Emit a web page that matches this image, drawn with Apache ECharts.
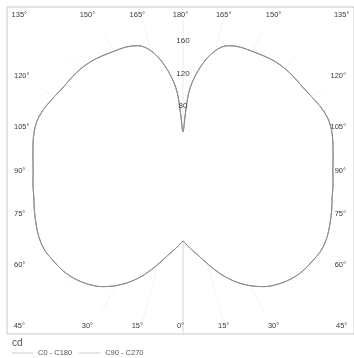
<!DOCTYPE html>
<html>
<head>
<meta charset="utf-8">
<script src="https://cdn.jsdelivr.net/npm/echarts@6/dist/echarts.min.js"></script>
<style>
  html, body { margin: 0; padding: 0; background: #ffffff; }
  #chart { width: 354px; height: 358px; }
</style>
</head>
<body>
<div id="chart"></div>
<script>
// Vertical angle gamma (degrees from nadir) and luminous intensity (cd).
// The distribution is symmetric, so each C-plane pair uses one half-curve.
const gammaAngles = [0, 2.5, 5, 10, 15, 20, 25, 30, 35, 40, 45, 50, 55, 60, 65, 70, 75, 80, 85, 90,
                     95, 100, 105, 110, 115, 120, 125, 130, 135, 140, 145, 150, 155, 160, 165, 170, 175, 177.5, 180];
const intensityC0C180 = [87, 91, 96, 106, 120, 136, 151, 164, 175, 183, 189, 193, 195, 197, 196, 193, 190, 187, 186, 185,
                         186, 188, 190, 190, 187, 183, 180, 179, 178, 176, 173, 170, 168, 164, 153, 132, 103, 72, 48];
const intensityC90C270 = [87, 91, 96, 106, 120, 136, 151, 164, 175, 183, 189, 193, 195, 197, 196, 193, 190, 187, 186, 185,
                          186, 188, 190, 190, 187, 183, 180, 179, 178, 176, 173, 170, 168, 164, 153, 132, 103, 72, 48];

// Frame tick labels (angles), radial tick labels (cd)
const bottomTickAngles = [-45, -30, -15, 0, 15, 30, 45];
const sideTickAngles = [60, 75, 90, 105, 120];
const radiusTickLabels = [80, 120, 160];
const seriesNames = ['C0 - C180', 'C90 - C270'];

const DEG = Math.PI / 180;
const FONT = 'Liberation Sans, Arial, sans-serif';
const LABEL_COLOR = '#3a3a3a';

// One closed polar outline: right half gamma 0..180, left half 180..0
function planeOutline(values) {
  const right = gammaAngles.map((g, i) => [values[i], -g]);
  const left = gammaAngles.map((g, i) => [values[i], g]).reverse();
  return right.concat(left);
}

// Label positions on the frame where the gamma ray meets it
const xTickValues = bottomTickAngles.map(a => Math.tan(a * DEG));
const yTickValues = sideTickAngles.map(a => -1 / Math.tan(a * DEG));
const xAngleOf = v => Math.round(Math.abs(Math.atan(v) / DEG));
const yAngleOf = v => Math.round(90 + Math.atan(v) / DEG);

// Radial spokes every 15 degrees; the nadir one is stronger
const spokeColors = [];
for (let v = -180; v <= 180; v += 15) {
  spokeColors.push(v === 0 ? '#d4d4d4' : (v % 180 === 0 ? '#ececec' : '#f5f5f5'));
}

const frameLabel = {
  inside: true,
  fontSize: 7.5,
  fontFamily: FONT,
  color: LABEL_COLOR
};

const chart = echarts.init(document.getElementById('chart'), null, { renderer: 'canvas' });
chart.setOption({
  backgroundColor: '#ffffff',
  animation: false,
  title: {
    text: 'cd',
    left: 7,
    top: 333,
    textStyle: { fontSize: 10, fontWeight: 'normal', color: '#555555', fontFamily: FONT }
  },
  legend: {
    data: seriesNames,
    icon: 'rect',
    left: 12,
    top: 349,
    padding: 0,
    itemWidth: 21,
    itemHeight: 1,
    itemGap: 7,
    textStyle: { fontSize: 7.5, color: '#555555', fontFamily: FONT },
    itemStyle: { color: '#cfcfcf' }
  },
  grid: {
    left: 7,
    top: 7,
    width: 352,
    height: 327,
    show: true,
    borderColor: '#c6c6c6',
    borderWidth: 1,
    backgroundColor: 'transparent'
  },
  xAxis: [
    {
      type: 'value', position: 'bottom', min: -176 / 163.5, max: 176 / 163.5,
      axisLine: { show: false }, axisTick: { show: false }, splitLine: { show: false },
      axisLabel: Object.assign({}, frameLabel, {
        margin: 4, customValues: xTickValues, formatter: v => xAngleOf(v) + '°'
      })
    },
    {
      type: 'value', position: 'top', min: -176 / 163.5, max: 176 / 163.5,
      axisLine: { show: false }, axisTick: { show: false }, splitLine: { show: false },
      axisLabel: Object.assign({}, frameLabel, {
        margin: 4, customValues: xTickValues, formatter: v => (180 - xAngleOf(v)) + '°'
      })
    }
  ],
  yAxis: [
    {
      type: 'value', position: 'left', min: -1, max: 1,
      axisLine: { show: false }, axisTick: { show: false }, splitLine: { show: false },
      axisLabel: Object.assign({}, frameLabel, {
        margin: 7, customValues: yTickValues, formatter: v => yAngleOf(v) + '°'
      })
    },
    {
      type: 'value', position: 'right', min: -1, max: 1,
      axisLine: { show: false }, axisTick: { show: false }, splitLine: { show: false },
      axisLabel: Object.assign({}, frameLabel, {
        margin: 8, customValues: yTickValues, formatter: v => yAngleOf(v) + '°'
      })
    }
  ],
  polar: {
    center: [183, 170.5],
    radius: 162
  },
  angleAxis: {
    type: 'value',
    min: -180,
    max: 180,
    interval: 15,
    startAngle: 90,
    clockwise: true,
    axisLine: { show: false },
    axisTick: { show: false },
    axisLabel: { show: false },
    splitLine: { show: true, lineStyle: { color: spokeColors, width: 1 } }
  },
  radiusAxis: {
    type: 'value',
    min: 0,
    max: 200,
    interval: 40,
    z: 5,
    axisLine: { show: false },
    axisTick: { show: false },
    splitLine: { show: false },
    axisLabel: {
      margin: 0,
      align: 'center',
      fontSize: 8,
      fontFamily: FONT,
      color: LABEL_COLOR,
      formatter: v => (radiusTickLabels.indexOf(v) >= 0 ? String(v) : '')
    }
  },
  series: [
    {
      name: seriesNames[0],
      type: 'line',
      coordinateSystem: 'polar',
      data: planeOutline(intensityC0C180),
      symbol: 'none',
      smooth: 0.35,
      lineStyle: { color: '#8c8c8c', width: 1 },
      itemStyle: { color: '#8c8c8c' },
      areaStyle: { color: '#ffffff', opacity: 1 }
    },
    {
      name: seriesNames[1],
      type: 'line',
      coordinateSystem: 'polar',
      data: planeOutline(intensityC90C270),
      symbol: 'none',
      smooth: 0.35,
      lineStyle: { color: '#8c8c8c', width: 1 },
      itemStyle: { color: '#8c8c8c' }
    }
  ]
});
</script>
</body>
</html>
